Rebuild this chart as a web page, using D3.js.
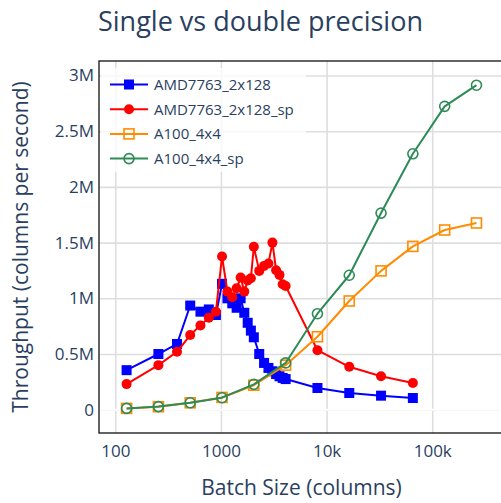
<!DOCTYPE html>
<html>
<head>
<meta charset="utf-8">
<script src="https://cdn.jsdelivr.net/npm/d3@7"></script>
<style>
  body { margin: 0; background: #fff; }
  svg { display: block; }
  text { font-family: "Open Sans", sans-serif; fill: #2a3f5f; }
</style>
</head>
<body>
<svg id="chart" width="501" height="503"></svg>
<script>
// Batch sizes (columns) for the CPU runs and the GPU runs
const cpuBatch = [128, 256, 384, 512, 640, 768, 896, 1024, 1152, 1280, 1408, 1536, 1664, 1792, 1920,
                  2048, 2304, 2560, 2816, 3072, 3328, 3584, 3840, 4096, 8192, 16384, 32768, 65536];
const gpuBatch = [128, 256, 512, 1024, 2048, 4096, 8192, 16384, 32768, 65536, 131072, 262144];

// Throughput in columns per second
const amdDouble = [355000, 500000, 590000, 935000, 880000, 900000, 850000, 1130000, 1000000, 955000,
                   915000, 1000000, 870000, 780000, 710000, 650000, 500000, 420000, 375000, 345000,
                   320000, 300000, 285000, 275000, 195000, 150000, 126000, 105000];
const amdSingle = [230000, 400000, 520000, 670000, 757000, 826000, 880000, 1375000, 1060000, 1010000,
                   1090000, 1186000, 1060000, 1160000, 1180000, 1462000, 1246000, 1291000, 1313000, 1500000,
                   1252000, 1210000, 1126000, 1111000, 534000, 385000, 300000, 240000];
const a100Double = [12000, 27000, 62000, 110000, 220000, 400000, 655000, 976000, 1246000, 1466000, 1613000, 1676000];
const a100Single = [12000, 28000, 62000, 108000, 228000, 420000, 862000, 1207000, 1765000, 2297000, 2723000, 2913000];

const seriesNames = ["AMD7763_2x128", "AMD7763_2x128_sp", "A100_4x4", "A100_4x4_sp"];

const xTickValues = [100, 1000, 10000, 100000];
const xTickLabels = ["100", "1000", "10k", "100k"];
const yTickValues = [0, 500000, 1000000, 1500000, 2000000, 2500000, 3000000];
const yTickLabels = ["0", "0.5M", "1M", "1.5M", "2M", "2.5M", "3M"];

const titleText = "Single vs double precision";
const xTitle = "Batch Size (columns)";
const yTitle = "Throughput (columns per second)";

// Layout
const plot = { left: 99, right: 504, top: 61, bottom: 433 };
const svg = d3.select("#chart");

const x = d3.scaleLog()
  .domain([Math.pow(10, 1.846), Math.pow(10, 5.679)])
  .range([plot.left, plot.right]);
const y = d3.scaleLinear()
  .domain([-209000, 3130000])
  .range([plot.bottom, plot.top]);

const traces = [
  { name: seriesNames[0], xs: cpuBatch, ys: amdDouble, color: "#0000ff", symbol: "square", filled: true },
  { name: seriesNames[1], xs: cpuBatch, ys: amdSingle, color: "#ff0000", symbol: "circle", filled: true },
  { name: seriesNames[2], xs: gpuBatch, ys: a100Double, color: "#ff8c00", symbol: "square", filled: false },
  { name: seriesNames[3], xs: gpuBatch, ys: a100Single, color: "#2e8b57", symbol: "circle", filled: false }
];

svg.append("defs").append("clipPath").attr("id", "plot-clip")
  .append("rect")
  .attr("x", plot.left).attr("y", plot.top)
  .attr("width", plot.right - plot.left).attr("height", plot.bottom - plot.top);

// Grid
const gridColor = "#dedede";
const grid = svg.append("g");
grid.append("g")
  .attr("transform", `translate(0,${plot.bottom})`)
  .call(d3.axisBottom(x).tickValues(xTickValues).tickSize(-(plot.bottom - plot.top)).tickFormat(""))
  .call(g => g.select(".domain").remove())
  .call(g => g.selectAll("line").attr("stroke", gridColor).attr("stroke-width", 1.6));
grid.append("g")
  .attr("transform", `translate(${plot.left},0)`)
  .call(d3.axisLeft(y).tickValues(yTickValues).tickSize(-(plot.right - plot.left)).tickFormat(""))
  .call(g => g.select(".domain").remove())
  .call(g => g.selectAll("line").attr("stroke", gridColor).attr("stroke-width", 1.6));

// Zero line
svg.append("line")
  .attr("x1", plot.left).attr("x2", plot.right)
  .attr("y1", y(0)).attr("y2", y(0))
  .attr("stroke", "#ffffff").attr("stroke-width", 2);

// Frame
svg.append("rect")
  .attr("x", plot.left).attr("y", plot.top)
  .attr("width", plot.right - plot.left).attr("height", plot.bottom - plot.top)
  .attr("fill", "none").attr("stroke", "#222").attr("stroke-width", 1.4);

// Tick labels
const xAxis = svg.append("g")
  .attr("transform", `translate(0,${plot.bottom})`)
  .call(d3.axisBottom(x).tickValues(xTickValues).tickSize(0).tickPadding(0)
    .tickFormat((d, i) => xTickLabels[i]));
xAxis.select(".domain").remove();
xAxis.selectAll("text")
  .attr("y", 24).attr("dy", null)
  .style("font-size", "17px").attr("fill", "#2a3f5f");

const yAxis = svg.append("g")
  .attr("transform", `translate(${plot.left},0)`)
  .call(d3.axisLeft(y).tickValues(yTickValues).tickSize(0).tickPadding(5)
    .tickFormat((d, i) => yTickLabels[i]));
yAxis.select(".domain").remove();
yAxis.selectAll("text")
  .style("font-size", "17px").attr("fill", "#2a3f5f");

// Titles
svg.append("text")
  .attr("x", 260.5).attr("y", 31)
  .attr("text-anchor", "middle")
  .style("font-size", "27px")
  .text(titleText);
svg.append("text")
  .attr("x", (plot.left + plot.right) / 2).attr("y", 495)
  .attr("text-anchor", "middle")
  .style("font-size", "21px")
  .text(xTitle);
svg.append("text")
  .attr("transform", `translate(28,${(plot.top + plot.bottom) / 2}) rotate(-90)`)
  .attr("text-anchor", "middle")
  .style("font-size", "21px")
  .text(yTitle);

// Markers
function drawMarker(sel, t, size) {
  const sw = t.filled ? 0 : 1.6;
  if (t.symbol === "square") {
    sel.append("rect")
      .attr("x", d => d[0] - size / 2).attr("y", d => d[1] - size / 2)
      .attr("width", size).attr("height", size)
      .attr("fill", t.filled ? t.color : "none")
      .attr("stroke", t.color).attr("stroke-width", sw);
  } else {
    sel.append("circle")
      .attr("cx", d => d[0]).attr("cy", d => d[1])
      .attr("r", size / 2)
      .attr("fill", t.filled ? t.color : "none")
      .attr("stroke", t.color).attr("stroke-width", sw);
  }
}

// Series
const dataLayer = svg.append("g").attr("clip-path", "url(#plot-clip)");
const line = d3.line().x(d => d[0]).y(d => d[1]);
traces.forEach(t => {
  const pts = t.xs.map((v, i) => [x(v), y(t.ys[i])]);
  const g = dataLayer.append("g");
  g.append("path").attr("d", line(pts))
    .attr("fill", "none").attr("stroke", t.color).attr("stroke-width", 2)
    .attr("stroke-linejoin", "round");
  const m = g.selectAll("g.pt").data(pts).join("g").attr("class", "pt");
  drawMarker(m, t, 10);
});

// Legend
const legend = svg.append("g");
legend.append("rect")
  .attr("x", 101).attr("y", 68).attr("width", 205).attr("height", 104)
  .attr("fill", "rgba(255,255,255,0.75)");
traces.forEach((t, i) => {
  const cy = 84.5 + i * 24.7;
  const item = legend.append("g");
  item.append("line")
    .attr("x1", 110).attr("x2", 148).attr("y1", cy).attr("y2", cy)
    .attr("stroke", t.color).attr("stroke-width", 2);
  drawMarker(item.selectAll("g").data([[129, cy]]).join("g"), t, 10);
  item.append("text")
    .attr("x", 154).attr("y", cy).attr("dy", "0.36em")
    .style("font-size", "15px")
    .text(t.name);
});
</script>
</body>
</html>
